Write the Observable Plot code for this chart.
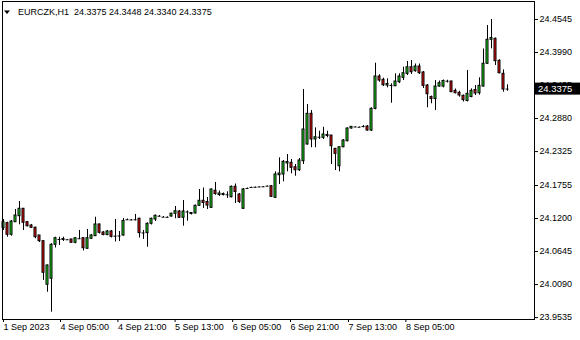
<!DOCTYPE html>
<html>
<head>
<meta charset="utf-8">
<script src="https://cdn.jsdelivr.net/npm/d3@7"></script>
<script src="https://cdn.jsdelivr.net/npm/@observablehq/plot@0.6"></script>
<style>
  html, body { margin: 0; padding: 0; background: #fff; }
</style>
</head>
<body>
<div id="chart"></div>
<script>
const symbol = "EURCZK,H1";

const open = [
24.1038, 24.1122, 24.0927, 24.1138, 24.1239, 24.1364, 24.1138, 24.1083, 24.1045, 24.0915,
24.0819, 24.0087, 24.0188, 24.0759, 24.0848, 24.0839, 24.0843, 24.0848, 24.0792, 24.0860,
24.0869, 24.0692, 24.0860, 24.0903, 24.1100, 24.0965, 24.0923, 24.0982, 24.0907, 24.0903,
24.0915, 24.1179, 24.1175, 24.1175, 24.1196, 24.0954, 24.0954, 24.1112, 24.1184, 24.1239,
24.1222, 24.1222, 24.1234, 24.1280, 24.1318, 24.1212, 24.1306, 24.1276, 24.1285, 24.1414,
24.1498, 24.1478, 24.1380, 24.1666, 24.1595, 24.1612, 24.1599, 24.1558, 24.1733, 24.1604,
24.1364, 24.1705, 24.1722, 24.1722, 24.1730, 24.1733, 24.1743, 24.1743, 24.1548, 24.1928,
24.1940, 24.2125, 24.2136, 24.2062, 24.2012, 24.2163, 24.2444, 24.2960, 24.2528, 24.2566,
24.2556, 24.2604, 24.2595, 24.2371, 24.2079, 24.2398, 24.2499, 24.2713, 24.2738, 24.2734,
24.2746, 24.2746, 24.2679, 24.3044, 24.3587, 24.3531, 24.3435, 24.3435, 24.3423, 24.3491,
24.3565, 24.3632, 24.3743, 24.3676, 24.3755, 24.3654, 24.3435, 24.3242, 24.3208, 24.3418,
24.3418, 24.3511, 24.3503, 24.3346, 24.3313, 24.3262, 24.3175, 24.3242, 24.3360, 24.3306,
24.3418, 24.3801, 24.4204, 24.4220, 24.3851, 24.3632, 24.3375
];
const high = [
24.1184, 24.1138, 24.1167, 24.1352, 24.1486, 24.1369, 24.1150, 24.1100, 24.1055, 24.0915,
24.0831, 24.0419, 24.0776, 24.0886, 24.0886, 24.0886, 24.0848, 24.0848, 24.0873, 24.0999,
24.0873, 24.1016, 24.0932, 24.1222, 24.1108, 24.0982, 24.0999, 24.0999, 24.1184, 24.0982,
24.1201, 24.1192, 24.1184, 24.1268, 24.1206, 24.0999, 24.1125, 24.1206, 24.1259, 24.1251,
24.1234, 24.1229, 24.1290, 24.1402, 24.1335, 24.1503, 24.1327, 24.1301, 24.1427, 24.1688,
24.1713, 24.1553, 24.1696, 24.1806, 24.1663, 24.1629, 24.1649, 24.1747, 24.1780, 24.1621,
24.1705, 24.1713, 24.1727, 24.1730, 24.1735, 24.1738, 24.1748, 24.1755, 24.1985, 24.2220,
24.2175, 24.2276, 24.2192, 24.2108, 24.2209, 24.3368, 24.3116, 24.3015, 24.2724, 24.2667,
24.2734, 24.2667, 24.2595, 24.2377, 24.2402, 24.2528, 24.2724, 24.2746, 24.2743, 24.2739,
24.2763, 24.2763, 24.3061, 24.3810, 24.3616, 24.3558, 24.3548, 24.3464, 24.3632, 24.3632,
24.3743, 24.3839, 24.3856, 24.3797, 24.3797, 24.3671, 24.3452, 24.3259, 24.3519, 24.3511,
24.3528, 24.3524, 24.3508, 24.3376, 24.3340, 24.3276, 24.3688, 24.3380, 24.3435, 24.3565,
24.4049, 24.4444, 24.4545, 24.4234, 24.3868, 24.3698, 24.3448
];
const low = [
24.0999, 24.0886, 24.0903, 24.1133, 24.1095, 24.0999, 24.1058, 24.1033, 24.0860, 24.0797,
24.0159, 23.9962, 23.9626, 24.0705, 24.0747, 24.0814, 24.0838, 24.0789, 24.0776, 24.0848,
24.0655, 24.0680, 24.0848, 24.0898, 24.0940, 24.0910, 24.0910, 24.0873, 24.0806, 24.0814,
24.0903, 24.1167, 24.1167, 24.1159, 24.0873, 24.0848, 24.0718, 24.1091, 24.1150, 24.1226,
24.1217, 24.1217, 24.1222, 24.1196, 24.1201, 24.1071, 24.1155, 24.1259, 24.1276, 24.1402,
24.1369, 24.1352, 24.1369, 24.1592, 24.1570, 24.1579, 24.1537, 24.1548, 24.1453, 24.1453,
24.1352, 24.1696, 24.1717, 24.1717, 24.1725, 24.1727, 24.1738, 24.1553, 24.1537, 24.1772,
24.1817, 24.1985, 24.1952, 24.1911, 24.1990, 24.2108, 24.2435, 24.2390, 24.2390, 24.2528,
24.2528, 24.2556, 24.2108, 24.2007, 24.1985, 24.2390, 24.2489, 24.2704, 24.2731, 24.2729,
24.2724, 24.2667, 24.2662, 24.3027, 24.3491, 24.3418, 24.3396, 24.3138, 24.3418, 24.3469,
24.3519, 24.3604, 24.3621, 24.3659, 24.3621, 24.3385, 24.3061, 24.3128, 24.3015, 24.3407,
24.3396, 24.3478, 24.3318, 24.3296, 24.3239, 24.3159, 24.3159, 24.3229, 24.3268, 24.3273,
24.3410, 24.3789, 24.4052, 24.3772, 24.3632, 24.3323, 24.3340
];
const close = [
24.1138, 24.0927, 24.1150, 24.1251, 24.1364, 24.1128, 24.1071, 24.1045, 24.0886, 24.0819,
24.0288, 24.0411, 24.0759, 24.0869, 24.0848, 24.0856, 24.0843, 24.0792, 24.0869, 24.0860,
24.0701, 24.0869, 24.0915, 24.1100, 24.0960, 24.0923, 24.0982, 24.0893, 24.0903, 24.0907,
24.1159, 24.1179, 24.1175, 24.1179, 24.0954, 24.0957, 24.1112, 24.1196, 24.1246, 24.1239,
24.1222, 24.1220, 24.1280, 24.1323, 24.1212, 24.1318, 24.1310, 24.1293, 24.1414, 24.1498,
24.1461, 24.1419, 24.1688, 24.1612, 24.1621, 24.1595, 24.1599, 24.1733, 24.1646, 24.1478,
24.1688, 24.1705, 24.1722, 24.1725, 24.1730, 24.1733, 24.1743, 24.1565, 24.1940, 24.1957,
24.2153, 24.2150, 24.2052, 24.2012, 24.2175, 24.2696, 24.2960, 24.2528, 24.2566, 24.2566,
24.2612, 24.2587, 24.2415, 24.2287, 24.2398, 24.2511, 24.2713, 24.2741, 24.2738, 24.2734,
24.2746, 24.2679, 24.3044, 24.3587, 24.3519, 24.3440, 24.3461, 24.3435, 24.3503, 24.3587,
24.3642, 24.3743, 24.3659, 24.3755, 24.3642, 24.3430, 24.3289, 24.3208, 24.3418, 24.3474,
24.3511, 24.3508, 24.3323, 24.3306, 24.3268, 24.3189, 24.3296, 24.3346, 24.3301, 24.3430,
24.3801, 24.4204, 24.4234, 24.3844, 24.3642, 24.3368, 24.3375
];

const yTicks = [24.4545, 24.3990, 24.3435, 24.2880, 24.2325, 24.1755, 24.1200, 24.0645, 24.0090, 23.9535];
const xTickLabels = ["1 Sep 2023", "4 Sep 05:00", "4 Sep 21:00", "5 Sep 13:00", "6 Sep 05:00", "6 Sep 21:00", "7 Sep 13:00", "8 Sep 05:00"];
const xTickBars = [0, 14.25, 28.6, 42.9, 57.3, 71.75, 86.25, 100.6];

const n = Math.min(open.length, high.length, low.length, close.length);
const bars = d3.range(n).map(i => ({i, o: open[i], h: high[i], l: low[i], c: close[i]}));
const isDoji = d => Math.abs(d.o - d.c) < 0.0004;
const UP = "#1ee01e", DOWN = "#f01010";

const chart = Plot.plot({
  width: 580,
  height: 340,
  marginLeft: 2,
  marginRight: 46,
  marginTop: 1,
  marginBottom: 21,
  style: {fontFamily: "'Liberation Sans', Arial, sans-serif", fontSize: "9px", background: "#fff", color: "#000", overflow: "visible"},
  x: {type: "linear", domain: [-0.25, 132.75]},
  y: {domain: [23.95029, 24.48475]},
  color: {type: "identity"},
  marks: [
    Plot.ruleX(bars, {x: "i", y1: "l", y2: "h", stroke: "#000", strokeWidth: 1}),
    Plot.rect(bars.filter(d => !isDoji(d)), {
      x1: d => d.i - 0.25, x2: d => d.i + 0.25,
      y1: "o", y2: "c",
      fill: d => d.c > d.o ? UP : DOWN,
      stroke: "#000", strokeWidth: 1
    }),
    Plot.ruleY(bars.filter(isDoji), {y: "c", x1: d => d.i - 0.375, x2: d => d.i + 0.375, stroke: "#000"}),
    Plot.frame({stroke: "#000"}),
    Plot.axisY({anchor: "right", ticks: yTicks, tickFormat: d => d.toFixed(4), tickSize: 3, tickPadding: 2, label: null}),
    Plot.axisX({ticks: xTickBars, tickFormat: d => xTickLabels[xTickBars.indexOf(d)], textAnchor: "start", tickSize: 3, tickPadding: 1, dx: 0, label: null})
  ]
});

document.getElementById("chart").appendChild(chart);

// header and current price tag
const svg = d3.select(chart);
const last = bars[n - 1];
const yS = chart.scale("y");
const yy = yS.apply(last.c);
svg.append("rect").attr("x", 535).attr("y", yy - 6).attr("width", 45).attr("height", 12).attr("fill", "#000");
svg.append("text").attr("x", 538).attr("y", yy).attr("dy", "0.34em").attr("text-anchor", "start")
  .attr("fill", "#fff").attr("font-size", 9.5).text(last.c.toFixed(4));

svg.append("path").attr("d", "M4,10.5L10,10.5L7,14Z").attr("fill", "#000");
svg.append("text").attr("x", 18).attr("y", 15.3).attr("fill", "#000").attr("text-anchor", "start")
  .style("white-space", "pre").attr("font-size", 9)
  .text(`${symbol}  ${last.o.toFixed(4)} ${last.h.toFixed(4)} ${last.l.toFixed(4)} ${last.c.toFixed(4)}`);
</script>
</body>
</html>
